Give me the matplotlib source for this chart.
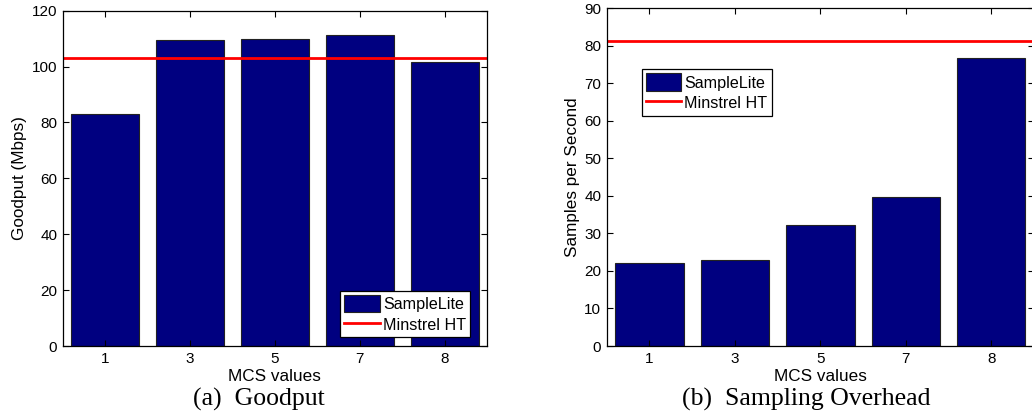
import matplotlib
matplotlib.use("Agg")
import matplotlib.pyplot as plt
import numpy as np

mcs_labels = ["1", "3", "5", "7", "8"]
goodput_samplelite = [82.9, 109.5, 109.9, 111.2, 101.5]
goodput_minstrel = 103.1
samples_samplelite = [22.0, 22.8, 32.2, 39.8, 76.8]
samples_minstrel = 81.2

plt.rcParams["font.family"] = ["Liberation Sans", "DejaVu Sans"]
plt.rcParams["font.size"] = 11

W, H = 1032, 418
fig = plt.figure(figsize=(W / 100, H / 100), dpi=100)

bar_color = "#000080"
x = np.arange(1, len(mcs_labels) + 1)


def panel(rect, values, ref, ylim, yticks, ylabel, caption, cap_x, leg_loc, leg_anchor):
    ax = fig.add_axes([rect[0] / W, 1 - rect[3] / H, (rect[2] - rect[0]) / W, (rect[3] - rect[1]) / H])
    bars = ax.bar(x, values, width=0.8, color=bar_color, edgecolor="#222222", linewidth=0.8)
    line = ax.axhline(ref, color="red", linewidth=2)
    ax.set_xlim(0.5, len(x) + 0.5)
    ax.set_ylim(*ylim)
    ax.set_yticks(yticks)
    ax.set_xticks(x)
    ax.set_xticklabels(mcs_labels)
    ax.tick_params(direction="in", length=4, width=0.8, top=True, right=True, pad=4)
    for s in ax.spines.values():
        s.set_linewidth(0.9)
    ax.set_xlabel("MCS values", labelpad=2.5, fontsize=12.3)
    ax.set_ylabel(ylabel, labelpad=3, fontsize=12.3)
    leg = ax.legend([bars, line], ["SampleLite", "Minstrel HT"], loc=leg_loc,
                    bbox_to_anchor=(leg_anchor[0] / W, 1 - leg_anchor[1] / H),
                    bbox_transform=fig.transFigure, borderaxespad=0, fancybox=False,
                    framealpha=1, edgecolor="black", handlelength=2.2, handleheight=1.3,
                    handletextpad=0.2, borderpad=0.25, labelspacing=0.2, fontsize=11.6)
    leg.get_frame().set_linewidth(0.9)
    fig.text(cap_x / W, 1 - 399 / H, caption, ha="center", va="center",
             family=["Liberation Serif", "DejaVu Serif"], fontsize=18.5)
    return ax


panel((62.7, 10.7, 487, 346), goodput_samplelite, goodput_minstrel, (0, 120),
      range(0, 121, 20), "Goodput (Mbps)", "(a)  Goodput", 259, "lower right", (470, 337.3))
panel((606.7, 8.3, 1034, 346), samples_samplelite, samples_minstrel, (0, 90),
      range(0, 91, 10), "Samples per Second", "(b)  Sampling Overhead", 806, "upper left", (641.7, 69.3))

fig.savefig("out.png", dpi=100)
